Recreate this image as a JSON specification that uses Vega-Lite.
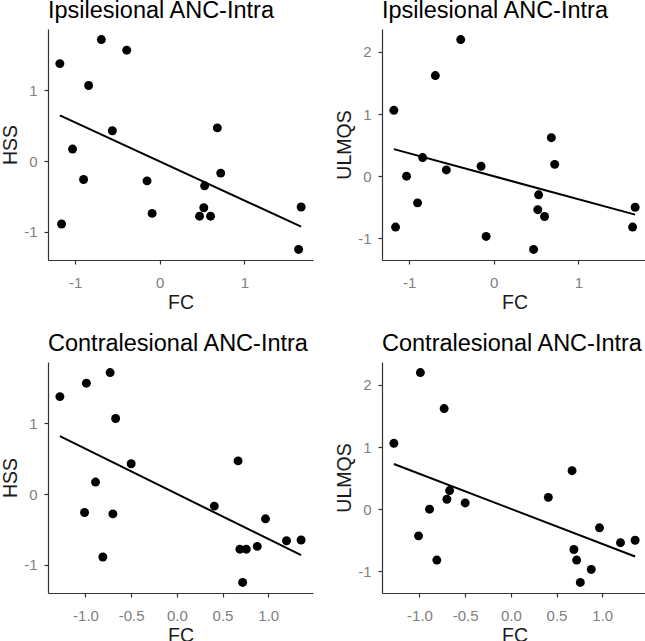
{
  "$schema": "https://vega.github.io/schema/vega-lite/v6.json",
  "padding": {"left": 0, "top": -2, "right": 0, "bottom": 0},
  "bounds": "flush",
  "columns": 2,
  "spacing": {"row": 102, "column": 69},
  "datasets": {
    "d": [
      {"FCi": -1.18, "FCc": -1.28, "HSS": 1.38, "ULMQS": 1.06},
      {"FCi": -1.16, "FCc": -0.81, "HSS": -0.89, "ULMQS": -0.82},
      {"FCi": -1.03, "FCc": -0.89, "HSS": 0.17, "ULMQS": 0.0},
      {"FCi": -0.90, "FCc": -1.01, "HSS": -0.26, "ULMQS": -0.43},
      {"FCi": -0.84, "FCc": -0.67, "HSS": 1.07, "ULMQS": 0.30},
      {"FCi": -0.69, "FCc": -0.73, "HSS": 1.72, "ULMQS": 1.62},
      {"FCi": -0.56, "FCc": -0.50, "HSS": 0.43, "ULMQS": 0.10},
      {"FCi": -0.39, "FCc": -0.99, "HSS": 1.57, "ULMQS": 2.20},
      {"FCi": -0.15, "FCc": -0.70, "HSS": -0.28, "ULMQS": 0.16},
      {"FCi": -0.09, "FCc": 0.88, "HSS": -0.74, "ULMQS": -0.97},
      {"FCi": 0.47, "FCc": 0.76, "HSS": -0.78, "ULMQS": -1.18},
      {"FCi": 0.52, "FCc": 1.20, "HSS": -0.66, "ULMQS": -0.54},
      {"FCi": 0.53, "FCc": 0.97, "HSS": -0.35, "ULMQS": -0.30},
      {"FCi": 0.60, "FCc": 0.69, "HSS": -0.78, "ULMQS": -0.65},
      {"FCi": 0.68, "FCc": 0.67, "HSS": 0.47, "ULMQS": 0.62},
      {"FCi": 0.72, "FCc": 0.41, "HSS": -0.17, "ULMQS": 0.19},
      {"FCi": 1.64, "FCc": 0.72, "HSS": -1.25, "ULMQS": -0.82},
      {"FCi": 1.67, "FCc": 1.36, "HSS": -0.65, "ULMQS": -0.50}
    ]
  },
  "concat": [
    {
      "width": 265, "height": 231,
      "title": "Ipsilesional ANC-Intra",
      "data": {"name": "d"},
      "encoding": {
        "x": {"field": "FCi", "type": "quantitative", "scale": {"domain": [-1.32, 1.81], "nice": false, "zero": false}, "axis": {"values": [-1, 0, 1], "title": "FC", "labelExpr": "datum.value < 0 ? '-' + format(-datum.value, 'd') : format(datum.value, 'd')"}},
        "y": {"field": "HSS", "type": "quantitative", "scale": {"domain": [-1.40, 1.87], "nice": false, "zero": false}, "axis": {"values": [-1, 0, 1], "title": "HSS", "labelExpr": "datum.value < 0 ? '-' + format(-datum.value, 'd') : format(datum.value, 'd')"}}
      },
      "layer": [
        {"mark": {"type": "circle", "size": 80, "color": "black", "opacity": 1}},
        {"transform": [{"regression": "HSS", "on": "FCi"}], "mark": {"type": "line", "color": "black", "strokeWidth": 2}}
      ]
    },
    {
      "width": 265, "height": 231,
      "title": "Ipsilesional ANC-Intra",
      "data": {"name": "d"},
      "encoding": {
        "x": {"field": "FCi", "type": "quantitative", "scale": {"domain": [-1.32, 1.81], "nice": false, "zero": false}, "axis": {"values": [-1, 0, 1], "title": "FC", "labelExpr": "datum.value < 0 ? '-' + format(-datum.value, 'd') : format(datum.value, 'd')"}},
        "y": {"field": "ULMQS", "type": "quantitative", "scale": {"domain": [-1.35, 2.37], "nice": false, "zero": false}, "axis": {"values": [-1, 0, 1, 2], "title": "ULMQS", "labelExpr": "datum.value < 0 ? '-' + format(-datum.value, 'd') : format(datum.value, 'd')"}}
      },
      "layer": [
        {"mark": {"type": "circle", "size": 80, "color": "black", "opacity": 1}},
        {"transform": [{"regression": "ULMQS", "on": "FCi"}], "mark": {"type": "line", "color": "black", "strokeWidth": 2}}
      ]
    },
    {
      "width": 265, "height": 231,
      "title": "Contralesional ANC-Intra",
      "data": {"name": "d"},
      "encoding": {
        "x": {"field": "FCc", "type": "quantitative", "scale": {"domain": [-1.41, 1.49], "nice": false, "zero": false}, "axis": {"values": [-1, -0.5, 0, 0.5, 1], "title": "FC", "labelExpr": "datum.value < 0 ? '-' + format(-datum.value, '.1f') : format(datum.value, '.1f')"}},
        "y": {"field": "HSS", "type": "quantitative", "scale": {"domain": [-1.40, 1.87], "nice": false, "zero": false}, "axis": {"values": [-1, 0, 1], "title": "HSS", "labelExpr": "datum.value < 0 ? '-' + format(-datum.value, 'd') : format(datum.value, 'd')"}}
      },
      "layer": [
        {"mark": {"type": "circle", "size": 80, "color": "black", "opacity": 1}},
        {"transform": [{"regression": "HSS", "on": "FCc"}], "mark": {"type": "line", "color": "black", "strokeWidth": 2}}
      ]
    },
    {
      "width": 265, "height": 231,
      "title": "Contralesional ANC-Intra",
      "data": {"name": "d"},
      "encoding": {
        "x": {"field": "FCc", "type": "quantitative", "scale": {"domain": [-1.41, 1.49], "nice": false, "zero": false}, "axis": {"values": [-1, -0.5, 0, 0.5, 1], "title": "FC", "labelExpr": "datum.value < 0 ? '-' + format(-datum.value, '.1f') : format(datum.value, '.1f')"}},
        "y": {"field": "ULMQS", "type": "quantitative", "scale": {"domain": [-1.35, 2.37], "nice": false, "zero": false}, "axis": {"values": [-1, 0, 1, 2], "title": "ULMQS", "labelExpr": "datum.value < 0 ? '-' + format(-datum.value, 'd') : format(datum.value, 'd')"}}
      },
      "layer": [
        {"mark": {"type": "circle", "size": 80, "color": "black", "opacity": 1}},
        {"transform": [{"regression": "ULMQS", "on": "FCc"}], "mark": {"type": "line", "color": "black", "strokeWidth": 2}}
      ]
    }
  ],
  "config": {
    "font": "Liberation Sans",
    "view": {"stroke": null},
    "axis": {
      "grid": false,
      "domainColor": "#333333", "domainWidth": 1.2,
      "tickColor": "#333333", "tickWidth": 1.2, "tickSize": 4,
      "labelFontSize": 15, "labelColor": "#808080", "labelPadding": 7,
      "labelFlush": false, "labelOverlap": false,
      "titleFontSize": 19.5, "titleFontWeight": "normal", "titleColor": "#1a1a1a", "titlePadding": 3
    },
    "axisX": {"labelPadding": 11},
    "title": {"fontSize": 23.5, "fontWeight": "normal", "anchor": "start", "frame": "group", "color": "#000000", "baseline": "alphabetic", "offset": 7}
  }
}
